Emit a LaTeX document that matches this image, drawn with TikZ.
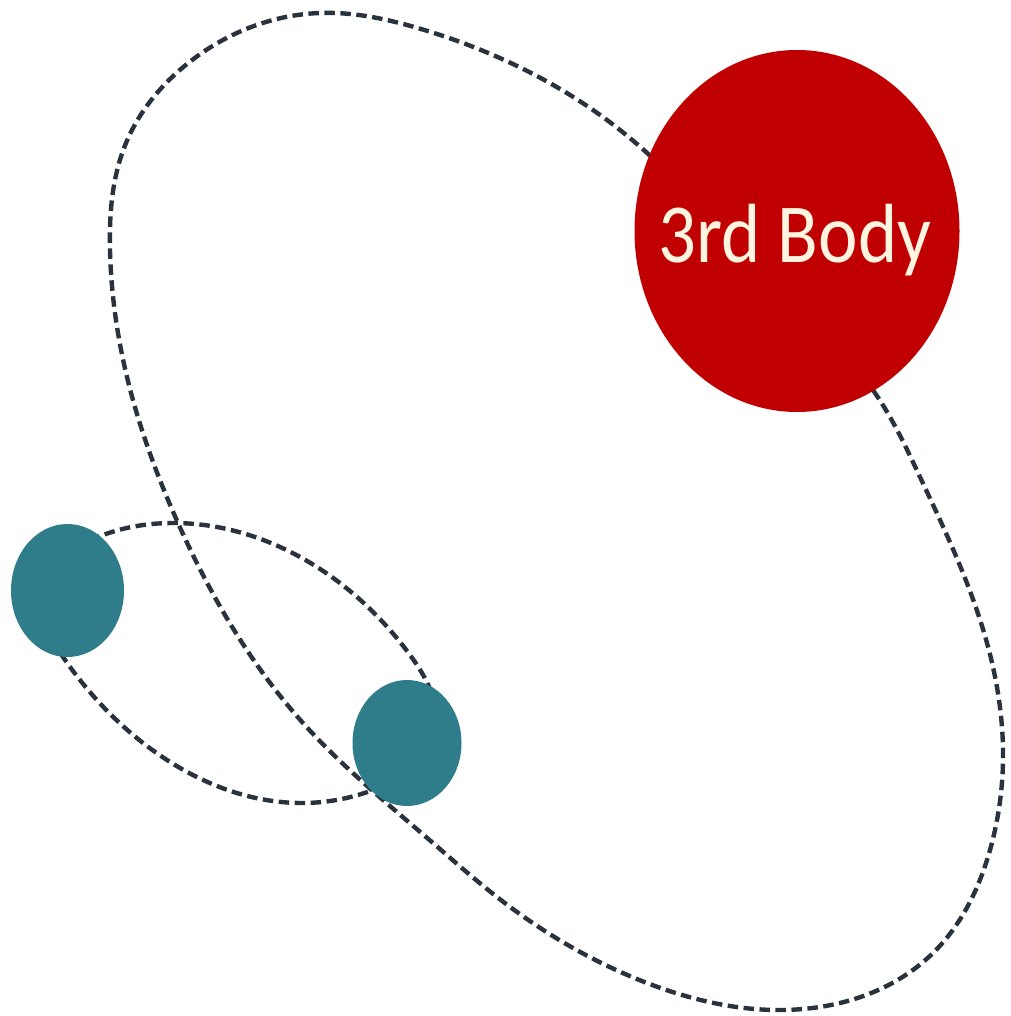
\documentclass[tikz,border=0pt]{standalone}
\usepackage{fontspec}
\usepackage{graphicx}
\setmainfont{Carlito}
\usetikzlibrary{shapes.geometric,hobby}
\definecolor{orbitgray}{HTML}{2A323E}
\definecolor{bodyred}{HTML}{C00000}
\definecolor{bodyteal}{HTML}{2F7C8A}
\definecolor{cream}{HTML}{FFF4E0}
\begin{document}
\begin{tikzpicture}[x=1pt,y=-1pt,
  orbitline/.style={draw=orbitgray, line width=4.4pt, dash pattern=on 10.5pt off 5.5pt},
  body/.style={ellipse, inner sep=0pt, draw=none},
  bigbody/.style={body, fill=bodyred, minimum width=325pt, minimum height=362pt},
  smallbody/.style={body, fill=bodyteal},
  bodylabel/.style={font=\fontsize{84}{84}\selectfont, text=cream, anchor=base, inner sep=0pt}]
\useasboundingbox (0,0) rectangle (1010,1016);
% outer orbit of the third body
\draw[orbitline] plot[closed hobby] coordinates {
  (760,272) (646,152) (421,29) (320,13) (187,64) (126,143) (110,250)
  (127,377) (178,523) (303,723) (433,843) (497,897) (647,983)
  (783,1010) (933,953) (990,850) (1003,760) (987,643) (920,477) (875,393)};
% inner binary orbit
\draw[orbitline] plot[closed hobby] coordinates {
  (42,600) (103,535) (175,523) (317,567) (410,655) (435,730)
  (373,790) (300,803) (167,760) (63,657)};
% bodies
\node[bigbody] (third) at (797,231) {};
\node[bodylabel] (thirdlabel) at (795,262) {\scalebox{0.89}[1]{3rd Body}};
\node[smallbody, minimum width=113pt, minimum height=133pt] (bodyA) at (67.5,590.5) {};
\node[smallbody, minimum width=109pt, minimum height=126pt] (bodyB) at (407,743) {};
\end{tikzpicture}
\end{document}
